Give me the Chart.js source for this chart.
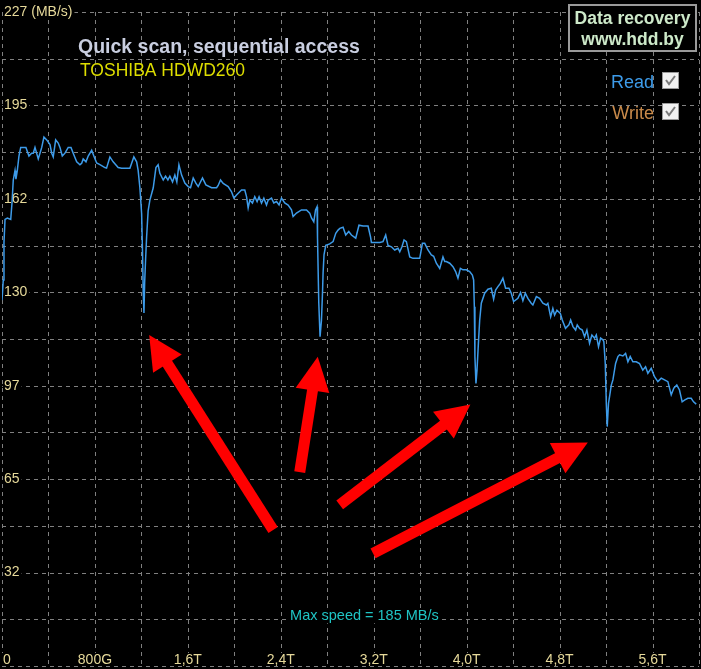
<!DOCTYPE html>
<html>
<head>
<meta charset="utf-8">
<script src="https://cdn.jsdelivr.net/npm/chart.js@4.4.1/dist/chart.umd.min.js"></script>
<style>
  html, body { margin: 0; padding: 0; background: #000; }
  #wrap { width: 701px; height: 669px; }
  canvas { display: block; background: #000; }
</style>
</head>
<body>
<div id="wrap"><canvas id="scanChart" width="701" height="669"></canvas></div>
<script>
// Quick scan, sequential access - TOSHIBA HDWD260

// disk position (GB) and read speed (MB/s)
const positionsGB = [
  0, 11, 17, 26, 46, 75, 86, 97, 112, 120, 132, 146, 161, 189, 206, 232, 255, 269, 284, 312,
  327, 342, 361, 385, 413, 428, 441, 462, 484, 499, 519, 542, 570, 594, 613, 643, 671, 686, 699, 723,
  742, 772, 794, 815, 843, 886, 900, 929, 957, 1000, 1030, 1101, 1116, 1135, 1159, 1172, 1187, 1202, 1210, 1216,
  1222, 1228, 1236, 1245, 1258, 1273, 1302, 1325, 1344, 1359, 1388, 1408, 1428, 1445, 1468, 1488, 1505, 1523, 1546, 1574,
  1603, 1623, 1646, 1669, 1689, 1726, 1755, 1804, 1847, 1861, 1881, 1904, 1947, 1976, 1996, 2019, 2062, 2090, 2105, 2119,
  2133, 2156, 2176, 2196, 2213, 2234, 2254, 2277, 2291, 2320, 2340, 2363, 2385, 2406, 2434, 2463, 2492, 2506, 2535, 2578,
  2621, 2649, 2664, 2684, 2699, 2712, 2716, 2727, 2738, 2750, 2759, 2764, 2772, 2787, 2821, 2850, 2873, 2893, 2908, 2936,
  2959, 2985, 3008, 3045, 3073, 3108, 3151, 3172, 3180, 3252, 3280, 3303, 3323, 3352, 3381, 3409, 3424, 3443, 3461, 3481,
  3510, 3538, 3596, 3619, 3639, 3667, 3696, 3716, 3739, 3768, 3796, 3811, 3825, 3854, 3882, 3905, 3925, 3946, 3968, 3997,
  4026, 4049, 4060, 4066, 4071, 4080, 4089, 4101, 4112, 4126, 4155, 4183, 4212, 4232, 4249, 4269, 4290, 4312, 4335, 4364,
  4384, 4404, 4441, 4464, 4484, 4505, 4527, 4556, 4570, 4600, 4628, 4656, 4686, 4699, 4723, 4742, 4757, 4777, 4806, 4823,
  4851, 4880, 4895, 4915, 4938, 4952, 4972, 4995, 5015, 5035, 5058, 5078, 5101, 5116, 5135, 5153, 5173, 5181, 5193, 5202,
  5210, 5221, 5230, 5245, 5259, 5282, 5302, 5316, 5345, 5368, 5388, 5408, 5431, 5460, 5488, 5516, 5540, 5560, 5589, 5617,
  5646, 5675, 5703, 5732, 5761, 5783, 5809, 5832, 5855, 5875, 5904, 5933, 5953, 5976
];
const readSpeeds = [
  127, 134, 147, 155, 155.5, 155, 160.7, 168.7, 172, 169, 172, 177, 180, 180, 180, 177, 178, 178, 180, 176,
  178, 180, 183.6, 182.6, 181, 178, 176.7, 182.6, 181.5, 180, 177, 178, 180, 180, 178, 175, 174, 174.5, 176, 175,
  177, 179, 176.7, 174.6, 174, 173, 172.8, 176.7, 175, 173, 172.8, 172.8, 174.5, 176.7, 175, 172, 166, 157, 143, 129.5,
  122.5, 133, 141, 149, 158, 161.7, 166, 173, 174, 171, 168.7, 170, 168.7, 170, 168, 170.4, 168, 174, 170.4, 167.6,
  166.4, 166, 169.4, 167.6, 166.4, 169.4, 167, 166, 166, 166.8, 168.7, 167.5, 166.4, 164.6, 162.4, 163.5, 165.2, 165.2, 162.9, 159,
  161.7, 160.7, 162.9, 161.2, 162.9, 160.7, 162.4, 160, 161.7, 162.4, 160.7, 161.2, 160, 162.4, 160.7, 160, 158.3, 156, 157.2, 158.3,
  158.3, 157.2, 155.5, 154.2, 158.3, 159.4, 148.6, 126, 114.3, 120, 129.5, 136.4, 142.7, 146, 146.5, 147.3, 150.2, 151.3, 151.9, 152.3,
  149.6, 150.8, 149.6, 148.5, 153, 152.7, 152.7, 149, 147, 147, 147.3, 149.6, 146, 145.5, 144.4, 145, 143.8, 145.5, 147.9, 147.3,
  142, 141.5, 141.5, 146.7, 146.7, 144.4, 142.7, 142.2, 139.8, 138, 142, 140.4, 140.4, 139.8, 138.6, 136.9, 134.6, 138, 137.5, 137.5,
  136.9, 135.7, 134, 124.7, 107.4, 98.1, 102.7, 112, 120, 125.9, 129.4, 130.8, 131.1, 127.3, 130.5, 131.7, 132.8, 134.6, 131.1, 131.1,
  129.4, 126.5, 127.6, 129.6, 126.8, 129.4, 127.6, 125.9, 125.3, 128.2, 127.6, 125.9, 125.3, 125.9, 121.2, 124.1, 121.8, 123.5, 122.4, 120.1,
  117.2, 118.4, 120.1, 117.8, 116.6, 118.4, 117.2, 116.6, 114.3, 116.6, 112, 114.9, 113.8, 114.9, 110.8, 113.8, 113.2, 112.6, 105, 91.2,
  83.1, 91.2, 93.5, 97.5, 99.3, 105, 107.4, 108, 107.6, 108.5, 105.6, 107.4, 105.6, 105.6, 105, 102.7, 103.9, 101.6, 103.3, 100.4,
  98.7, 99.9, 99.3, 98.7, 94.1, 96.4, 97.5, 95.8, 91.7, 92.3, 92.9, 92.9, 91.7, 90.9
];
const writeSpeeds = [];

// axes: one label per grid line ('' = unlabeled line)
const xMaxGB = 6000;
const xGridStepGB = 400;
const xTickLabels = ['0', '', '800G', '', '1,6T', '', '2,4T', '', '3,2T', '', '4,0T', '', '4,8T', '', '5,6T', ''];
const yMaxSpeed = 227;
const yTickLabels = ['', '', '32', '', '65', '', '97', '', '130', '', '162', '', '195', '', '227 (MB/s)'];

// red arrows pointing at the slow zones, [GB, MB/s]
const arrowTails = [[2334, 47.2], [2563, 67.3], [2907, 55.9], [3194, 39.1]];
const arrowTips = [[1267, 114.9], [2718, 107.3], [4032, 90.8], [5043, 77.6]];

const titleText = 'Quick scan, sequential access';
const modelText = 'TOSHIBA HDWD260';
const maxSpeedText = 'Max speed = 185 MB/s';
const stampLines = ['Data recovery', 'www.hdd.by'];

const FONT = '"Liberation Sans", Arial, sans-serif';
const GRID = '#808080';
const TICK_COLOR = '#e6d99a';

// dashed grid at every scale tick
const dashedGridPlugin = {
  id: 'dashedGridPlugin',
  beforeDatasetsDraw(chart) {
    const {ctx, chartArea: a, scales: {x, y}} = chart;
    ctx.save();
    ctx.strokeStyle = GRID;
    ctx.lineWidth = 1;
    ctx.setLineDash([4, 4]);
    x.ticks.forEach(t => {
      const px = Math.round(x.getPixelForValue(t.value)) + 0.5;
      ctx.beginPath();
      ctx.moveTo(px, a.top);
      ctx.lineTo(px, a.bottom);
      ctx.stroke();
    });
    y.ticks.forEach(t => {
      const py = Math.round(y.getPixelForValue(t.value)) + 0.5;
      ctx.beginPath();
      ctx.moveTo(a.left, py);
      ctx.lineTo(a.right, py);
      ctx.stroke();
    });
    ctx.restore();
  }
};

// tick labels on black patches, inside the plot
const tickLabelPlugin = {
  id: 'tickLabelPlugin',
  beforeDatasetsDraw(chart) {
    const {ctx, chartArea, scales: {x, y}} = chart;
    ctx.save();
    ctx.font = '14px ' + FONT;
    ctx.textBaseline = 'middle';
    y.ticks.forEach(t => {
      if (!t.label) return;
      const py = y.getPixelForValue(t.value);
      const w = ctx.measureText(t.label).width;
      ctx.fillStyle = '#000';
      ctx.fillRect(chartArea.left + 1, py - 7, w + 3, 14);
      ctx.fillStyle = TICK_COLOR;
      ctx.textAlign = 'left';
      ctx.fillText(t.label, chartArea.left + 2, py);
    });
    const ly = chartArea.bottom - 6;
    x.ticks.forEach((t, i) => {
      if (!t.label) return;
      const px = x.getPixelForValue(t.value);
      const w = ctx.measureText(t.label).width;
      const left = i === 0 ? chartArea.left + 1 : px - w / 2;
      ctx.fillStyle = '#000';
      ctx.fillRect(left - 1, ly - 7, w + 2, 13);
      ctx.fillStyle = TICK_COLOR;
      ctx.textAlign = 'left';
      ctx.fillText(t.label, left, ly);
    });
    ctx.restore();
  }
};

const arrowPlugin = {
  id: 'arrowPlugin',
  afterDatasetsDraw(chart) {
    const {ctx, scales: {x, y}} = chart;
    ctx.save();
    ctx.fillStyle = '#ff0000';
    ctx.strokeStyle = '#ff0000';
    arrowTails.forEach((tail, i) => {
      const x0 = x.getPixelForValue(tail[0]), y0 = y.getPixelForValue(tail[1]);
      const x1 = x.getPixelForValue(arrowTips[i][0]), y1 = y.getPixelForValue(arrowTips[i][1]);
      const len = Math.hypot(x1 - x0, y1 - y0);
      const ux = (x1 - x0) / len, uy = (y1 - y0) / len;
      const headLen = 34, headHalf = 17;
      const bx = x1 - ux * headLen, by = y1 - uy * headLen;
      ctx.lineWidth = 11;
      ctx.lineCap = 'butt';
      ctx.beginPath();
      ctx.moveTo(x0, y0);
      ctx.lineTo(bx + ux * 2, by + uy * 2);
      ctx.stroke();
      ctx.beginPath();
      ctx.moveTo(x1, y1);
      ctx.lineTo(bx - uy * headHalf, by + ux * headHalf);
      ctx.lineTo(bx + uy * headHalf, by - ux * headHalf);
      ctx.closePath();
      ctx.fill();
    });
    ctx.restore();
  }
};

function drawCheckbox(ctx, left, top) {
  ctx.fillStyle = '#f2f2f2';
  ctx.fillRect(left, top, 17, 17);
  ctx.strokeStyle = '#9a9a9a';
  ctx.lineWidth = 1;
  ctx.strokeRect(left + 0.5, top + 0.5, 16, 16);
  ctx.strokeStyle = '#7a7a7a';
  ctx.lineWidth = 2;
  ctx.beginPath();
  ctx.moveTo(left + 4, top + 8);
  ctx.lineTo(left + 7, top + 12);
  ctx.lineTo(left + 13, top + 4);
  ctx.stroke();
}

const overlayPlugin = {
  id: 'overlayPlugin',
  afterDraw(chart) {
    const {ctx, chartArea} = chart;
    ctx.save();
    // title and drive model
    ctx.textAlign = 'left';
    ctx.textBaseline = 'alphabetic';
    ctx.font = 'bold 19.5px ' + FONT;
    ctx.fillStyle = '#c9cee0';
    ctx.fillText(titleText, 78, 53);
    ctx.font = '17.5px ' + FONT;
    ctx.fillStyle = '#dede00';
    ctx.fillText(modelText, 80, 76);

    // stamp box
    ctx.fillStyle = '#000';
    ctx.fillRect(568, 4, 129, 48);
    ctx.strokeStyle = '#9a9a9a';
    ctx.lineWidth = 2;
    ctx.strokeRect(569, 5, 127, 46);
    ctx.font = 'bold 17.5px ' + FONT;
    ctx.fillStyle = '#cde9c9';
    ctx.textAlign = 'center';
    ctx.fillText(stampLines[0], 632.5, 24);
    ctx.fillText(stampLines[1], 632.5, 45);

    // legend
    ctx.font = '18px ' + FONT;
    ctx.textAlign = 'right';
    chart.data.datasets.forEach((ds, i) => {
      const top = 72 + i * 31;
      ctx.fillStyle = ds.borderColor;
      ctx.fillText(ds.label, 654, top + 16);
      drawCheckbox(ctx, 662, top);
    });

    // max speed note
    const yScale = chart.scales.y;
    const ny = yScale.getPixelForValue(yScale.ticks[1].value) - 3;
    ctx.font = '14.5px ' + FONT;
    ctx.textAlign = 'center';
    ctx.textBaseline = 'middle';
    const w = ctx.measureText(maxSpeedText).width;
    const nx = chartArea.left + chartArea.width * 0.52;
    ctx.fillStyle = '#000';
    ctx.fillRect(nx - w / 2 - 2, ny - 7, w + 4, 14);
    ctx.fillStyle = '#1fc4c4';
    ctx.fillText(maxSpeedText, nx, ny);
    ctx.restore();
  }
};

new Chart(document.getElementById('scanChart'), {
  type: 'line',
  data: {
    datasets: [{
      label: 'Read',
      data: positionsGB.map((gb, i) => ({x: gb, y: readSpeeds[i]})),
      borderColor: '#3d9be9',
      borderWidth: 1.5,
      pointRadius: 0,
      tension: 0,
      fill: false
    }, {
      label: 'Write',
      data: writeSpeeds,
      borderColor: '#c98a4a',
      borderWidth: 1.5,
      pointRadius: 0
    }]
  },
  options: {
    responsive: false,
    animation: false,
    layout: { padding: { left: 2, right: 2, top: 12, bottom: 3 } },
    plugins: { legend: { display: false }, tooltip: { enabled: false } },
    scales: {
      x: {
        type: 'linear',
        min: 0,
        max: xMaxGB,
        afterBuildTicks: s => { s.ticks = xTickLabels.map((_, i) => ({value: i * xGridStepGB})); },
        ticks: { display: false, callback: (v, i) => xTickLabels[i] },
        grid: { display: false, drawTicks: false },
        border: { display: false }
      },
      y: {
        type: 'linear',
        min: 0,
        max: yMaxSpeed,
        afterBuildTicks: s => { s.ticks = yTickLabels.map((_, i) => ({value: i * yMaxSpeed / (yTickLabels.length - 1)})); },
        ticks: { display: false, callback: (v, i) => yTickLabels[i] },
        grid: { display: false, drawTicks: false },
        border: { display: false }
      }
    }
  },
  plugins: [dashedGridPlugin, tickLabelPlugin, arrowPlugin, overlayPlugin]
});
</script>
</body>
</html>
